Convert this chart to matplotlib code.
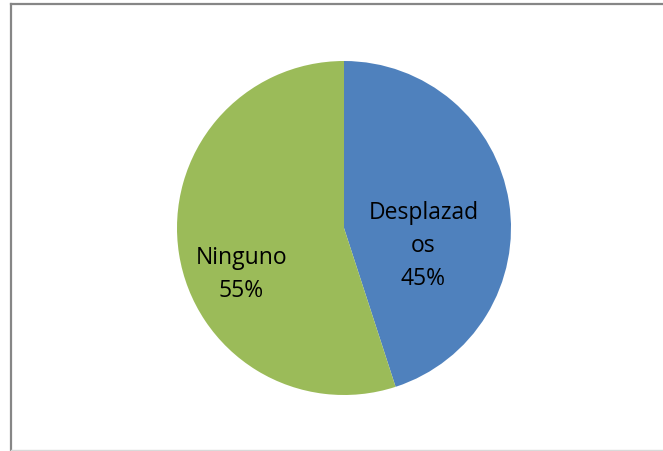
import matplotlib
matplotlib.use("Agg")
import matplotlib.pyplot as plt
from matplotlib.lines import Line2D

categorias = ["Desplazad\nos", "Ninguno"]
valores = [45, 55]
colores = ["#4F81BD", "#9BBB59"]
# posiciones de las etiquetas (estilo Excel)
pos_etiquetas = [(0.475, -0.10), (-0.615, -0.275)]

plt.rcParams['font.family'] = ['Open Sans', 'DejaVu Sans']

fig = plt.figure(figsize=(6.63, 4.52), dpi=100)
W, H = 663, 452

# marco del grafico
fig.add_artist(Line2D([10.5 / W, 10.5 / W], [0, 1 - 4.5 / H], color="#868686", lw=1.6))
fig.add_artist(Line2D([10.5 / W, 1], [1 - 4.5 / H, 1 - 4.5 / H], color="#868686", lw=1.6))
fig.add_artist(Line2D([10.5 / W, 1], [1.0 / H, 1.0 / H], color="#d9d9d9", lw=1.0))

cx, cy, r = 344, 229, 167
ax = fig.add_axes([(cx - r) / W, (H - cy - r) / H, 2 * r / W, 2 * r / H])

etiquetas = [f"{c}\n{v}%" for c, v in zip(categorias, valores)]
wedges, textos = ax.pie(valores, colors=colores, startangle=90, counterclock=False,
                        labels=etiquetas, labeldistance=0.5, radius=1,
                        textprops=dict(fontsize=16.5, color="black", ha="center",
                                       va="center", linespacing=1.5))
for t, p in zip(textos, pos_etiquetas):
    t.set_position(p)
    t.set_ha("center")
    t.set_va("center")

ax.set_xlim(-1, 1)
ax.set_ylim(-1, 1)
ax.set_aspect("equal")
ax.axis("off")

fig.savefig("out.png", dpi=100)
